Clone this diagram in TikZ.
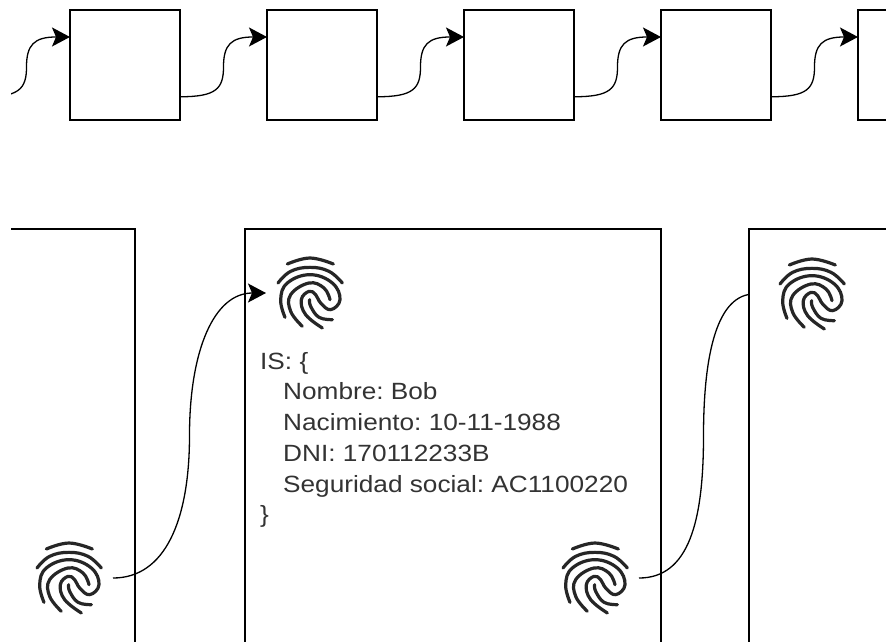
\documentclass[tikz,border=0pt]{standalone}
\usepackage{fontspec}
\setmainfont{Liberation Sans}
\newfontfamily\infofont[FakeStretch=1.115]{Liberation Sans}
\usetikzlibrary{arrows.meta,calc}
\tikzset{
  boxnode/.style={draw=black,line width=1.5pt,fill=white,minimum width=110pt,minimum height=110pt,inner sep=0pt,outer sep=0pt},
  bigbox/.style={draw=black,line width=1.5pt,fill=white,inner sep=0pt,outer sep=0pt,minimum height=500pt},
  fpnode/.style={minimum width=88pt,minimum height=70pt,inner sep=0pt,outer sep=0pt},
  ridge/.style={line width=3.2pt,line cap=round,line join=round,color=black!85},
  link/.style={draw=black,line width=1.3pt,-{Stealth[length=18pt,width=19pt,inset=4pt]}},
  infotext/.style={align=left,anchor=north west,inner sep=0pt,text=black!80,font=\infofont\fontsize{23.5}{30.7}\selectfont}
}
\newcommand{\fpdraw}[1]{%
  \begin{scope}[shift={(#1.center)},x=0.3333pt,y=-0.3333pt]
    \draw[ridge] plot[smooth,tension=.7] coordinates {(-68,-87) (0,-105) (70,-87)};
    \draw[ridge] plot[smooth,tension=.7] coordinates {(-96,-30) (-58,-65) (0,-77) (57,-65) (97,-30)};
    \draw[ridge] plot[smooth,tension=.7] coordinates {(-75,73) (-88,20) (-68,-30) (0,-55) (67,-30) (90,20) (62,50) (32,30) (17,5) (-3,-5) (-26,20) (-13,65) (37,105)};
    \draw[ridge] plot[smooth,tension=.7] coordinates {(-23,100) (-58,55) (-58,5) (-3,-30) (42,-15) (60,20)};
    \draw[ridge] plot[smooth,tension=.7] coordinates {(67,80) (27,73) (2,40) (-1,20)};
  \end{scope}}
\newcommand{\toplink}[2]{\draw[link] (#1) .. controls +(36,0) and +(0,22) .. ($(#1)!.5!(#2)$) .. controls +(0,-22) and +(-36,0) .. (#2);}
\begin{document}
\frenchspacing
\begin{tikzpicture}[x=1pt,y=-1pt]
\useasboundingbox (0,0) rectangle (886,641);
\clip (11,0) rectangle (886,641);
% top row
\node[boxnode] (t1) at (125,65) {};
\node[boxnode] (t2) at (322,65) {};
\node[boxnode] (t3) at (519,65) {};
\node[boxnode] (t4) at (716,65) {};
\node[boxnode] (t5) at (913,65) {};
\coordinate (t0) at (-17,97);
\toplink{t0}{t1.153}
\toplink{t1.-30}{t2.153}
\toplink{t2.-30}{t3.153}
\toplink{t3.-30}{t4.153}
\toplink{t4.-30}{t5.153}
% bottom row
\node[bigbox,minimum width=300pt] (b1) at (-15,479) {};
\node[bigbox,minimum width=416pt] (b2) at (453,479) {};
\node[fpnode] (fp1) at (69,578) {};
\node[fpnode] (fp2) at (310,293) {};
\node[fpnode] (fp3) at (595,578) {};
\node[fpnode] (fp4) at (812,294) {};
\draw[link] (fp3.east) .. controls +(50,0) and +(0,85) .. ($(fp3.east)!.5!(fp4.west)$) .. controls +(0,-85) and +(-50,0) .. (fp4.west);
\node[bigbox,minimum width=416pt] (b3) at (957,479) {};
\fpdraw{fp1}
\fpdraw{fp2}
\fpdraw{fp3}
\fpdraw{fp4}
\draw[link] (fp1.east) .. controls +(52,0) and +(0,85) .. ($(fp1.east)!.5!(fp2.west)$) .. controls +(0,-85) and +(-52,0) .. (fp2.west);
\node[infotext] (info) at (260,352) {IS: \{\\
\hspace*{23pt}Nombre: Bob\\
\hspace*{23pt}Nacimiento: 10-11-1988\\
\hspace*{23pt}DNI: 170112233B\\
\hspace*{23pt}Seguridad social: AC1100220\\
\}};
\end{tikzpicture}
\end{document}
